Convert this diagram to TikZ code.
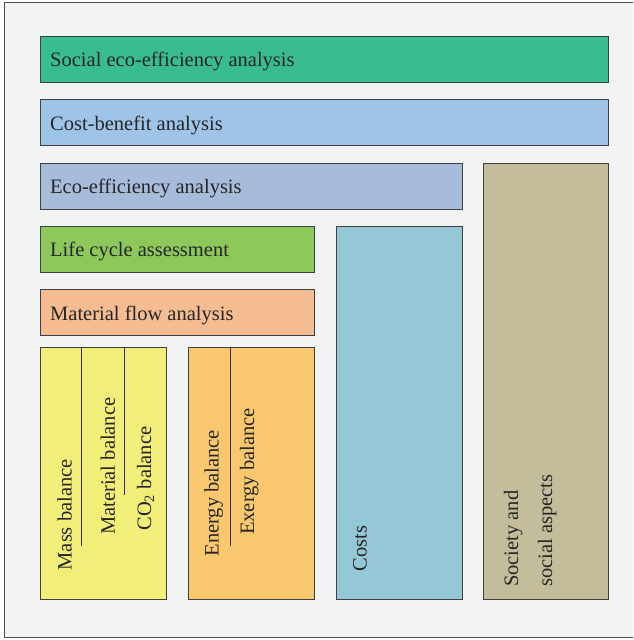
\documentclass[tikz,border=0pt]{standalone}
\usepackage{fontspec}
\setmainfont{Liberation Serif}
\usepackage{tikz}
\usetikzlibrary{calc}

\definecolor{framebg}{RGB}{242,244,243}
\definecolor{seagreen}{RGB}{58,188,147}
\definecolor{cbablue}{RGB}{158,197,232}
\definecolor{eeablue}{RGB}{167,188,219}
\definecolor{lcagreen}{RGB}{141,200,90}
\definecolor{mfapeach}{RGB}{244,188,144}
\definecolor{massyellow}{RGB}{241,239,122}
\definecolor{energyorange}{RGB}{249,200,110}
\definecolor{costsblue}{RGB}{148,200,214}
\definecolor{societytan}{RGB}{195,189,155}

\begin{document}
\begin{tikzpicture}[x=1pt,y=-1pt]
      \tikzset{box/.style={draw=black!75,
          line width=0.8pt,
          inner sep=0pt,
          anchor=north west,
          fill=#1},
        lbl/.style={inner sep=0pt, text=black!85,
          font=\fontsize{20.5}{24}\selectfont},
        hlbl/.style={lbl, anchor=base west},
        vlbl/.style={lbl, anchor=base west, rotate=90},
        divider/.style={draw=black!80, line width=0.8pt}
      }
      \useasboundingbox (0,0) rectangle (633,640);
      \clip (0,0) rectangle (633,640);
      \draw [draw=black!70, line width=1pt, fill=framebg] (4,2.5) rectangle (645,637);

      % analysis levels
      \node [box=seagreen, minimum width=568pt, minimum height=46pt] (sea) at (40,36) {};
      \node [box=cbablue, minimum width=568pt, minimum height=46pt] (cba) at (40,99.3) {};
      \node [box=eeablue, minimum width=422pt, minimum height=46pt] (eea) at (40,162.7) {};
      \node [box=lcagreen, minimum width=274pt, minimum height=46pt] (lca) at (40,226) {};
      \node [box=mfapeach, minimum width=274pt, minimum height=46pt] (mfa) at (40,289.3) {};
      \node [hlbl] (sealbl) at ($(sea.north west)+(10,30.7)$) {Social eco-efficiency analysis};
      \node [hlbl] (cbalbl) at ($(cba.north west)+(10,30.7)$) {Cost-benefit analysis};
      \node [hlbl] (eealbl) at ($(eea.north west)+(10,30.7)$) {Eco-efficiency analysis};
      \node [hlbl] (lcalbl) at ($(lca.north west)+(10,30.7)$) {Life cycle assessment};
      \node [hlbl] (mfalbl) at ($(mfa.north west)+(10,30.7)$) {Material flow analysis};

      % columns
      \node [box=massyellow, minimum width=126pt, minimum height=252.3pt] (mass) at (40,346.7) {};
      \node [box=energyorange, minimum width=126pt, minimum height=252.3pt] (energy) at (188,346.7) {};
      \node [box=costsblue, minimum width=126pt, minimum height=373pt] (costs) at (336,226) {};
      \node [box=societytan, minimum width=125.5pt, minimum height=436.3pt] (society) at (482.5,162.7) {};

      \draw [divider] ($(mass.north west)+(41.7,0)$) -- +(0,199);
      \draw [divider] ($(mass.north west)+(84,0)$) -- +(0,148.3);
      \draw [divider] ($(energy.north west)+(42.3,0)$) -- +(0,199);

      \node [vlbl] (masslbl) at (71.5,570.5) {Mass balance};
      \node [vlbl] (matlbl) at (114.8,535) {Material balance};
      \node [vlbl] (colbl) at (151,530.7) {CO\textsubscript{2} balance};
      \node [vlbl] (enlbl) at (218.5,556.7) {Energy balance};
      \node [vlbl] (exlbl) at (254,535) {Exergy balance};
      \node [vlbl] (costlbl) at (366.5,571.7) {Costs};
      \node [vlbl] (soclbl) at (518,587) {Society and};
      \node [vlbl] (asplbl) at (552,587) {social aspects};

    \end{tikzpicture}
\end{document}
